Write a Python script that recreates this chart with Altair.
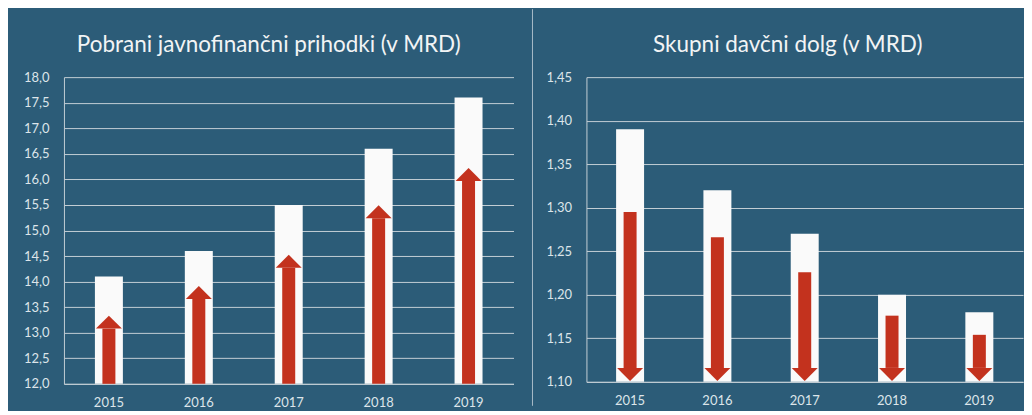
import altair as alt
import pandas as pd

years = ["2015", "2016", "2017", "2018", "2019"]

revenue_title = "Pobrani javnofinančni prihodki (v MRD)"
revenue_bars = [14.1, 14.6, 15.5, 16.6, 17.6]
revenue_arrow_from = [12.0, 12.0, 12.0, 12.0, 12.0]
revenue_arrow_to = [13.08, 13.66, 14.27, 15.24, 15.97]
revenue_ticks = [12.0, 12.5, 13.0, 13.5, 14.0, 14.5, 15.0, 15.5, 16.0, 16.5, 17.0, 17.5, 18.0]

debt_title = "Skupni davčni dolg (v MRD)"
debt_bars = [1.39, 1.32, 1.27, 1.20, 1.18]
debt_arrow_from = [1.295, 1.266, 1.226, 1.176, 1.154]
debt_arrow_to = [1.116, 1.116, 1.116, 1.116, 1.116]
debt_ticks = [1.10, 1.15, 1.20, 1.25, 1.30, 1.35, 1.40, 1.45]

BG = "#2c5c78"
RED = "#c3321e"
WHITE = "#fafafa"
GRID = "#c3ced5"
TEXT = "#dde5ea"
TITLE = "#f2f4f5"
DIV = "#a9bcc8"
FONT = "Lato"

UP = "M-1,0L1,0L0,-1Z"
DOWN = "M-1,0L1,0L0,1Z"


def panel(title, bars, a_from, a_to, ticks, decimals, width, height, head, dx):
    df = pd.DataFrame({"year": years, "bar": bars, "base": [ticks[0]] * len(years),
                       "from": a_from, "to": a_to})
    x = alt.X("year:N", title=None, sort=years,
              scale=alt.Scale(paddingInner=0.1, paddingOuter=0.05),
              axis=alt.Axis(labelAngle=0, labelFont=FONT, labelFontSize=13, labelColor=TEXT,
                            labelPadding=13, ticks=False, domain=True, domainColor=GRID,
                            domainWidth=1, grid=False))
    yscale = alt.Scale(domain=[ticks[0], ticks[-1]], nice=False, zero=False)
    yaxis = alt.Axis(values=ticks, tickCount=len(ticks),
                     labelExpr=f"replace(format(datum.value, '.{decimals}f'), '.', ',')",
                     labelFont=FONT, labelFontSize=13, labelColor=TEXT, labelPadding=15,
                     labelOverlap=False,
                     ticks=False, domain=True, domainColor=GRID, domainWidth=1,
                     grid=True, gridColor=GRID, gridWidth=1, gridOpacity=1)
    base = alt.Chart(df)
    white = base.mark_bar(size=28, color=WHITE).encode(
        x=x, y=alt.Y("bar:Q", scale=yscale, axis=yaxis, title=None), y2="base:Q")
    shaft = base.mark_bar(size=13, color=RED).encode(
        x=x, y=alt.Y("from:Q", scale=yscale, axis=yaxis, title=None), y2="to:Q")
    tip = base.mark_point(shape=head, size=676, filled=True, color=RED, opacity=1,
                          strokeWidth=0).encode(
        x=x, y=alt.Y("to:Q", scale=yscale, axis=yaxis, title=None))
    return alt.layer(white, shaft, tip).properties(
        width=width, height=height,
        title=alt.TitleParams(text=title, font=FONT, fontSize=22.5, fontWeight="normal",
                              color=TITLE, frame="group", anchor="middle", dx=dx, offset=15))


left = panel(revenue_title, revenue_bars, revenue_arrow_from, revenue_arrow_to,
             revenue_ticks, 1, 450, 307, UP, -20)
right = panel(debt_title, debt_bars, debt_arrow_from, debt_arrow_to,
              debt_ticks, 2, 437, 305, DOWN, -17)

divider = alt.Chart(pd.DataFrame({"d": [0]})).mark_rule(color=DIV, strokeWidth=1).encode(
    x=alt.value(9), y=alt.value(-68), y2=alt.value(329)).properties(width=53, height=307)

chart = alt.hconcat(left, divider, right, spacing=10, bounds="flush",
                    padding={"left": 14, "top": 0, "right": 0, "bottom": 0}).configure(
    background=BG).configure_view(stroke="transparent")

chart.save("out.html", embed_options={"renderer": "svg", "actions": False})
